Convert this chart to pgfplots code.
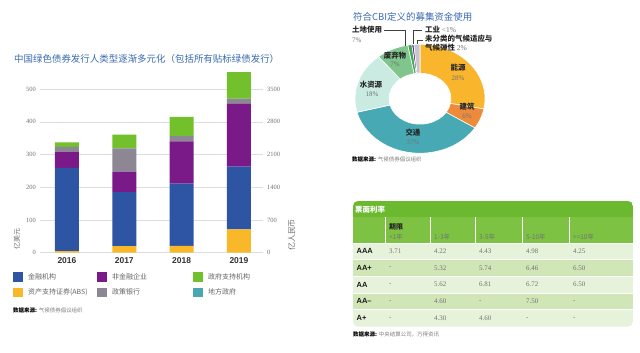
\documentclass[border=0pt]{standalone}
\usepackage{fontspec}
\setmainfont{Liberation Serif}
\setsansfont{Liberation Sans}
\newfontfamily\cjk{Noto Sans CJK SC}
\usepackage{pgfplots}
\usepackage{pgfplotstable}
\pgfplotsset{compat=1.18}

\definecolor{cblue}{HTML}{2E55A3}
\definecolor{cpurple}{HTML}{7A1A88}
\definecolor{cgreen}{HTML}{72C02C}
\definecolor{cgray}{HTML}{8C8793}
\definecolor{cyellow}{HTML}{F8B82A}
\definecolor{cteal}{HTML}{48A7B2}
\definecolor{ttl}{HTML}{3A6BB0}
\definecolor{dEnergy}{HTML}{F9B52B}
\definecolor{dBuild}{HTML}{EE8B3A}
\definecolor{dTrans}{HTML}{47A9B4}
\definecolor{dWater}{HTML}{C9EBE2}
\definecolor{dWaste}{HTML}{7FC58C}
\definecolor{dLand}{HTML}{3FAA4F}
\definecolor{dInd}{HTML}{5B1E8A}
\definecolor{dUnc}{HTML}{C6C4CC}
\definecolor{tTitle}{HTML}{6AB92E}
\definecolor{tHead}{HTML}{7DC243}
\definecolor{tLight}{HTML}{E7F2DB}
\definecolor{tMid}{HTML}{D0E6B6}

\pgfplotstableread{
x abs fin nonfin policy gov
0 5 254 48 16 14
1 20 165 63 71 42
2 21 190 129 16 59
3 71 192 192 16 81
}\issuers

\pgfplotsset{sq legend/.style={legend image code/.code={\fill[##1] (0bp,-4.75bp) rectangle (10bp,4.75bp);}}}

\newcommand{\slice}[3]{%
 \fill[#3, draw=white, line width=0.6bp] ([shift={(#1:65bp and 54.5bp)}]axis cs:0,0) arc[start angle=#1, end angle=#2, x radius=65bp, y radius=54.5bp] -- ([shift={(#2:31bp and 25.5bp)}]axis cs:0,0) arc[start angle=#2, end angle=#1, x radius=31bp, y radius=25.5bp] -- cycle;}

\begin{document}
\begin{tikzpicture}
\useasboundingbox (0,0) rectangle (640bp,353bp);
\fill[white] (0,0) rectangle (640bp,353bp);

% ---------------- bar chart -----------------
\begin{axis}[
 at={(40bp,100.3bp)}, anchor=south west,
 scale only axis, width=223bp, height=183.3bp,
 xmin=-0.47, xmax=3.42, ymin=0, ymax=560,
 ybar stacked, bar width=24bp,
 xtick={0,1,2,3}, xticklabels={2016,2017,2018,2019},
 ytick={0,100,...,500},
 ymajorgrids, grid style={line width=0.5bp, draw=black!13},
 axis line style={draw=none}, major tick length=0pt,
 /pgf/number format/assume math mode=true,
 /pgf/number format/1000 sep={},
 yticklabel style={font=\fontsize{6.5}{7}\selectfont, text=black!55, inner xsep=4bp, inner ysep=0pt},
 xticklabel style={font=\sffamily\bfseries\fontsize{8.5}{9}\selectfont, text=black!80, inner sep=0pt, yshift=-4.5bp},
 legend columns=3, legend cell align=left,
 legend style={at={(-0.121,-0.105)}, anchor=north west, draw=none, fill=none, inner sep=0pt,
   row sep=6bp, font=\cjk\fontsize{7}{8}\selectfont, text=black!60,
   nodes={inner sep=0pt, text width=64bp, align=left},
   /tikz/column 1/.style={column sep=5bp},
   /tikz/column 2/.style={column sep=5bp},
   /tikz/column 3/.style={column sep=5bp},
   /tikz/column 4/.style={column sep=17bp},
   /tikz/column 5/.style={column sep=5bp}},
]
\addlegendimage{sq legend, fill=cblue, draw=none}\addlegendentry{金融机构}
\addlegendimage{sq legend, fill=cpurple, draw=none}\addlegendentry{非金融企业}
\addlegendimage{sq legend, fill=cgreen, draw=none}\addlegendentry{政府支持机构}
\addlegendimage{sq legend, fill=cyellow, draw=none}\addlegendentry{资产支持证券(ABS)}
\addlegendimage{sq legend, fill=cgray, draw=none}\addlegendentry{政策银行}
\addlegendimage{sq legend, fill=cteal, draw=none}\addlegendentry{地方政府}
\addplot[fill=cyellow, draw=none] table[x=x, y=abs] {\issuers};
\addplot[fill=cblue, draw=none] table[x=x, y=fin] {\issuers};
\addplot[fill=cpurple, draw=none] table[x=x, y=nonfin] {\issuers};
\addplot[fill=cgray, draw=none] table[x=x, y=policy] {\issuers};
\addplot[fill=cgreen, draw=none] table[x=x, y=gov] {\issuers};
\end{axis}

\begin{axis}[
 at={(40bp,100.3bp)}, anchor=south west,
 scale only axis, width=223bp, height=183.3bp,
 xmin=-0.47, xmax=3.42, ymin=0, ymax=3920,
 axis y line*=right, axis x line=none,
 ytick={0,700,...,3500},
 axis line style={draw=none}, major tick length=0pt,
 /pgf/number format/assume math mode=true,
 /pgf/number format/1000 sep={},
 yticklabel style={font=\fontsize{6.5}{7}\selectfont, text=black!55, inner xsep=4bp, inner ysep=0pt},
]
\addplot[draw=none, forget plot] coordinates {(0,0)};
\end{axis}

% ---------------- donut -----------------
\begin{axis}[
 at={(355bp,199.8bp)}, anchor=south west,
 scale only axis, width=130bp, height=109bp,
 xmin=-1, xmax=1, ymin=-1, ymax=1, hide axis, clip=false]
\addplot[draw=none, forget plot] coordinates {(0,0)};
\slice{90}{-10.8}{dEnergy}
\slice{-10.8}{-32.4}{dBuild}
\slice{-32.4}{-165.6}{dTrans}
\slice{-165.6}{-230.4}{dWater}
\slice{-230.4}{-259.2}{dWaste}
\slice{-259.2}{-262.8}{dLand}
\slice{-262.8}{-264.6}{dInd}
\slice{-264.6}{-270}{dUnc}
\end{axis}

\begin{scope}[x=1bp,y=1bp]
% titles
\node[anchor=west, inner sep=0pt, text=ttl, font=\cjk\fontsize{9.5}{10}\selectfont] at (14,294) {中国绿色债券发行人类型逐渐多元化（包括所有贴标绿债发行）};
\node[anchor=west, inner sep=0pt, text=ttl, font=\cjk\fontsize{9.5}{10}\selectfont] at (353,336) {符合CBI定义的募集资金使用};

% axis titles
\node[rotate=90, inner sep=0pt, text=black!55, font=\cjk\fontsize{7}{8}\selectfont] at (17,114) {亿美元};
\node[rotate=90, inner sep=0pt, text=black!55, font=\cjk\fontsize{8}{9}\selectfont] at (291.7,118) {亿人民币};

% sources
\node[anchor=west, inner sep=0pt, font=\fontsize{5.5}{6}\selectfont] at (13,43) {{\cjk\bfseries 数据来源:} {\cjk\color{black!50}气候债券倡议组织}};
\node[anchor=west, inner sep=0pt, font=\fontsize{5.5}{6}\selectfont] at (352,194) {{\cjk\bfseries 数据来源:} {\cjk\color{black!50}气候债券倡议组织}};
\node[anchor=west, inner sep=0pt, font=\fontsize{5.5}{6}\selectfont] at (353,19) {{\cjk\bfseries 数据来源:} {\cjk\color{black!50}中央结算公司，万得资讯}};

% donut labels
\tikzset{dl/.style={inner sep=0pt, text=black!85, font=\cjk\bfseries\fontsize{7.5}{8}\selectfont},
         dp/.style={inner sep=0pt, text=black!55, font=\fontsize{7}{8}\selectfont}}
\node[dl] at (458,285) {能源}; \node[dp] at (458,275) {28\%};
\node[dl] at (467,246) {建筑}; \node[dp] at (467,237) {6\%};
\node[dl] at (413,220) {交通}; \node[dp] at (413,211) {37\%};
\node[dl] at (371,268) {水资源}; \node[dp] at (372,259) {18\%};
\node[dl] at (395,297) {废弃物}; \node[dp] at (395,289) {7\%};
\node[dl, anchor=west] at (352,323) {土地使用}; \node[dp, anchor=west] at (352,313) {7\%};
\node[dl, anchor=west] at (425,323) {工业 {\rmfamily\mdseries\color{black!55}<1\%}};
\node[dl, anchor=west] at (425,314) {未分类的气候适应与};
\node[dl, anchor=west] at (425,305) {气候弹性 {\rmfamily\mdseries\color{black!55}2\%}};
\draw[black!75, line width=0.5bp] (384,323) -- (405,323) -- (405,307);
\draw[black!75, line width=0.5bp] (422,323) -- (413.3,323) -- (413.3,308.5);
\draw[black!75, line width=0.5bp] (423,313) -- (417.5,313) -- (417.5,308.5);

% ---------------- table -----------------
\begin{scope}
\clip[rounded corners=5bp] (353,26.3) rectangle (633,152);
\fill[tTitle] (353,136) rectangle (633,152);
\fill[tHead] (353,110) rectangle (633,136);
\fill[tLight] (353,93.3) rectangle (633,110);
\fill[tMid] (353,76.7) rectangle (633,93.3);
\fill[tLight] (353,60) rectangle (633,76.7);
\fill[tMid] (353,43.3) rectangle (633,60);
\fill[tLight] (353,26.3) rectangle (633,43.3);
\foreach \yy in {93.3,76.7,60,43.3} \draw[white, line width=0.8bp] (353,\yy) -- (633,\yy);
\draw[white, line width=0.8bp] (353,110) -- (633,110);
\foreach \xx in {385,430,475,522,569} \draw[white, line width=0.8bp] (\xx,110) -- (\xx,136);
\end{scope}
\node[anchor=west, inner sep=0pt, text=white, font=\cjk\bfseries\fontsize{7.5}{8}\selectfont] at (355,143.5) {票面利率};
\tikzset{th/.style={anchor=west, inner sep=0pt, text=black!55, font=\cjk\fontsize{6.5}{7}\selectfont}}
\node[th, text=black!85, font=\cjk\bfseries\fontsize{7}{8}\selectfont] at (389,126) {期限};
\node[th] at (389,115.5) {<1年};
\node[th] at (434,115.5) {1-3年};
\node[th] at (479,115.5) {3-5年};
\node[th] at (526,115.5) {5-10年};
\node[th] at (573,115.5) {>=10年};
\foreach \lab/\a/\b/\c/\d/\e [count=\i] in {AAA/3.71/4.22/4.43/4.98/4.25, AA+/-/5.32/5.74/6.46/6.50, AA/-/5.62/6.81/6.72/6.50, AA–/-/4.60/-/7.50/-, A+/-/4.30/4.60/-/-}{
 \pgfmathsetmacro{\ry}{101.65-(\i-1)*16.68}
 \node[anchor=west, inner sep=0pt, font=\sffamily\bfseries\fontsize{7.5}{8}\selectfont, text=black!90] at (356.5,\ry) {\lab};
 \node[anchor=west, inner sep=0pt, font=\fontsize{7}{8}\selectfont, text=black!55] at (389,\ry) {\a};
 \node[anchor=west, inner sep=0pt, font=\fontsize{7}{8}\selectfont, text=black!55] at (434,\ry) {\b};
 \node[anchor=west, inner sep=0pt, font=\fontsize{7}{8}\selectfont, text=black!55] at (479,\ry) {\c};
 \node[anchor=west, inner sep=0pt, font=\fontsize{7}{8}\selectfont, text=black!55] at (526,\ry) {\d};
 \node[anchor=west, inner sep=0pt, font=\fontsize{7}{8}\selectfont, text=black!55] at (573,\ry) {\e};
}
\end{scope}
\end{tikzpicture}
\end{document}
